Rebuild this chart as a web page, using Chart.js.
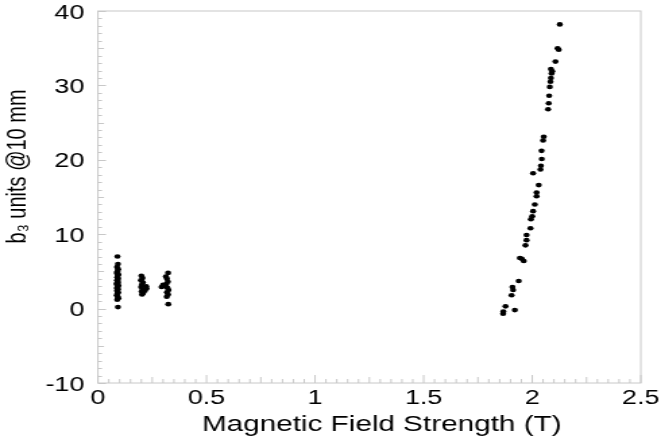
<!DOCTYPE html>
<html><head><meta charset="utf-8">
<script src="https://cdn.jsdelivr.net/npm/chart.js@4/dist/chart.umd.min.js"></script>
<style>
html,body{margin:0;padding:0;background:#fff;overflow:hidden;}
#wrap{position:absolute;left:0;top:0;width:490px;height:441px;transform:scaleX(1.349);transform-origin:0 0;}
</style></head><body>
<div id="wrap"><canvas id="c"></canvas></div>
<script>
// Magnetic field strength (T)
const fieldT = [
  0.090,0.092,0.088,0.093,0.090,0.087,0.094,0.091,0.089,0.093,0.088,0.092,0.090,0.086,
  0.094,0.091,0.089,0.092,0.088,0.093,0.090,0.087,0.091,0.094,0.089,0.092,0.090,0.088,
  0.200,0.205,0.198,0.207,0.202,0.222,0.224,0.199,0.206,0.201,0.208,0.203,0.216,
  0.323,0.313,0.318,0.322,0.293,0.300,0.315,0.320,0.325,0.318,0.323,0.317,0.324,0.310,
  1.866,1.867,1.877,1.920,1.905,1.912,1.909,1.938,1.943,1.952,1.961,1.969,1.974,1.974,
  1.992,1.994,2.000,2.004,2.012,2.020,2.020,2.030,2.004,2.038,2.040,2.044,2.043,2.050,
  2.053,2.073,2.076,2.078,2.081,2.084,2.086,2.089,2.092,2.086,2.107,2.117,2.122,2.127
];
// b3 units @ 10 mm
const b3Units = [
  7.0,6.0,5.6,5.3,5.0,4.8,4.6,4.4,4.2,4.0,3.8,3.6,3.4,3.3,
  3.1,2.9,2.7,2.6,2.4,2.2,2.0,1.8,1.6,1.4,1.2,0.2,3.5,2.8,
  4.4,4.1,3.8,3.5,3.2,3.0,2.7,2.9,2.6,2.3,2.1,1.9,2.4,
  4.8,4.3,4.0,3.6,2.9,3.2,3.3,2.8,2.5,2.2,1.9,1.6,0.6,3.0,
  -0.7,-0.4,0.3,-0.2,1.8,2.5,2.9,3.7,6.8,6.7,6.4,8.5,9.2,9.9,
  10.8,12.0,12.4,13.1,14.0,15.1,15.6,16.6,18.2,18.7,19.2,20.1,21.2,22.6,
  23.1,26.8,27.6,28.6,29.8,30.5,31.0,31.6,31.9,32.2,33.2,35.0,34.8,38.2
];
const xTicks = [0, 0.5, 1, 1.5, 2, 2.5];
const yTicks = [-10, 0, 10, 20, 30, 40];
const xTitle = 'Magnetic Field Strength (T)';
const yTitle = 'b\u2083 units @10 mm';

const points = fieldT.map((v, i) => ({x: v, y: b3Units[i]}));

const frame = {
  id: 'frame',
  beforeDatasetsDraw(chart) {
    const {ctx, chartArea: a, scales: {x, y}} = chart;
    ctx.save();
    ctx.strokeStyle = '#c8c8c8';
    ctx.lineWidth = 1;
    ctx.strokeRect(a.left, a.top, a.right - a.left, a.bottom - a.top);
    ctx.beginPath();
    for (let i = 0; i <= 50; i++) {
      const px = x.getPixelForValue(i * 0.05);
      const len = i % 10 === 0 ? 8 : (i % 5 === 0 ? 6 : 4);
      ctx.moveTo(px, a.bottom); ctx.lineTo(px, a.bottom - len);
    }
    for (let i = -10; i <= 40; i++) {
      const py = Math.round(y.getPixelForValue(i)) + 0.5;
      const len = i % 10 === 0 ? 6 : (i % 5 === 0 ? 4.5 : 3);
      ctx.moveTo(a.left, py); ctx.lineTo(a.left + len, py);
    }
    ctx.stroke();
    ctx.restore();
  }
};

const fam = '"Liberation Sans", Arial, Helvetica, sans-serif';
new Chart(document.getElementById('c'), {
  type: 'scatter',
  data: {datasets: [{
    data: points,
    backgroundColor: '#000',
    borderColor: '#000',
    borderWidth: 0,
    pointRadius: 2.3,
    pointHoverRadius: 2.3
  }]},
  options: {
    responsive: true,
    maintainAspectRatio: false,
    animation: false,
    events: [],
    layout: {padding: {top: 11, right: 15, left: 0, bottom: 0}},
    plugins: {legend: {display: false}, tooltip: {enabled: false}},
    scales: {
      x: {
        type: 'linear', min: 0, max: 2.5,
        afterBuildTicks: s => { s.ticks = xTicks.map(v => ({value: v})); },
        afterFit: s => { s.height = 58; s.paddingLeft = 0; s.paddingRight = 0; },
        grid: {display: false, drawTicks: false},
        border: {display: false},
        ticks: {color: '#000', padding: 5, maxRotation: 0, callback: v => String(v),
          font: {family: fam, size: 20, lineHeight: 1}},
        title: {display: true, text: '   ' + xTitle, color: '#000', padding: {top: 0, bottom: 3},
          font: {family: fam, size: 22, lineHeight: 1.2}}
      },
      y: {
        type: 'linear', min: -10, max: 40,
        afterBuildTicks: s => { s.ticks = yTicks.map(v => ({value: v})); },
        afterFit: s => { s.width = 72.6; s.paddingTop = 0; s.paddingBottom = 0; },
        grid: {display: false, drawTicks: false},
        border: {display: false},
        ticks: {color: '#000', padding: 10, labelOffset: 2, callback: v => String(v),
          font: {family: fam, size: 20, lineHeight: 1}},
        title: {display: true, text: '           ' + yTitle, color: '#000', padding: {top: 1, bottom: 0},
          font: {family: fam, size: 20, lineHeight: 1.2}}
      }
    }
  },
  plugins: [frame]
});
</script>
</body></html>
